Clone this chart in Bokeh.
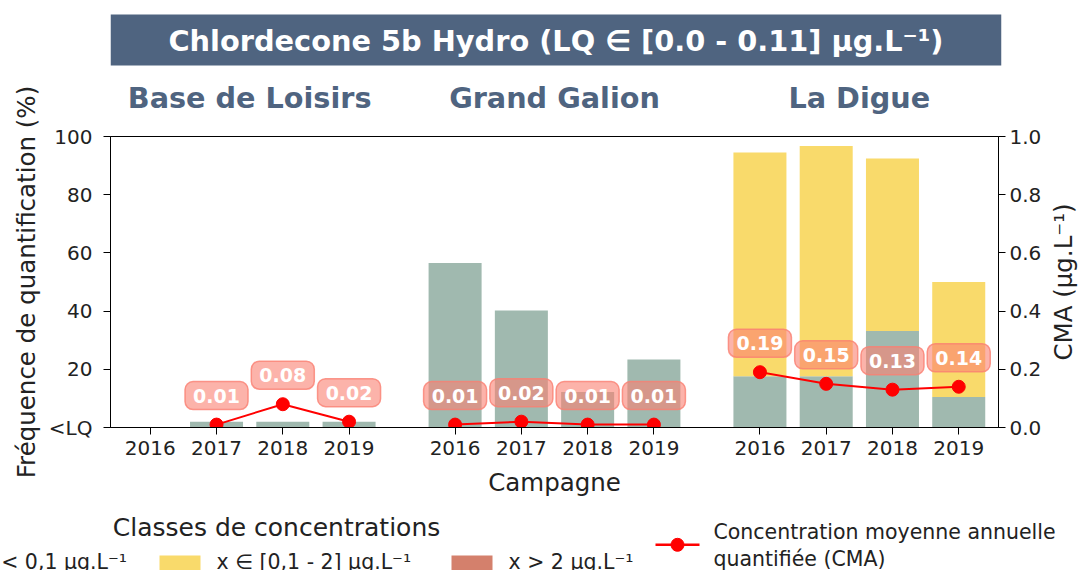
import math
from bokeh.plotting import figure
from bokeh.layouts import column, row
from bokeh.models import (ColumnDataSource, Range1d, LinearAxis, FixedTicker,
                          Label, NumeralTickFormatter)
from bokeh.core.properties import value
from bokeh.embed import file_html
from bokeh.resources import INLINE

# ---------------- data ----------------
title_text = "Chlordecone 5b Hydro (LQ \u2208 [0.0 - 0.11] \u00b5g.L\u207b\u00b9)"
sites = ["Base de Loisirs", "Grand Galion", "La Digue"]
years = ["2016", "2017", "2018", "2019"]
# frequency of quantification (%) per concentration class, per site and year
freq_lt_01 = [[0, 2, 2, 2], [56.5, 40.2, 12.2, 23.4], [17.6, 17.6, 33.2, 10.5]]
freq_01_2 = [[0, 0, 0, 0], [0, 0, 0, 0], [76.9, 79.1, 59.2, 39.5]]
freq_gt_2 = [[0, 0, 0, 0], [0, 0, 0, 0], [0, 0, 0, 0]]
# annual mean quantified concentration (µg/L)
cma = [[None, 0.01, 0.08, 0.02], [0.01, 0.02, 0.01, 0.01], [0.19, 0.15, 0.13, 0.14]]
class_labels = ["x < 0,1 \u00b5g.L\u207b\u00b9", "x \u2208 [0,1 - 2] \u00b5g.L\u207b\u00b9", "x > 2 \u00b5g.L\u207b\u00b9"]
class_colors = ["#A0B9AF", "#F9DA6B", "#D4806C"]
legend_title = "Classes de concentrations"
cma_legend = ["Concentration moyenne annuelle", "quantifi\u00e9e (CMA)"]
y_ticks = [0, 20, 40, 60, 80, 100]
cma_ticks = [0.0, 0.2, 0.4, 0.6, 0.8, 1.0]
y_label = "Fr\u00e9quence de quantification (%)"
y2_label = "CMA (\u00b5g.L\u207b\u00b9)"
x_label = "Campagne"

# ---------------- layout constants ----------------
FONT = "DejaVu Sans"
TXT = "#222222"
SLATE = "#4F6480"
W = 1078
group_offsets = [0.0, 4.6, 9.2]
X0, X1 = -0.6, 12.8
FRAME_L, FRAME_R, FRAME_T, FRAME_B = 110, 1001, 136, 427   # page pixels
TOP_H = 72           # banner strip
BOT_Y = 505          # legend strip starts here
H_TOTAL = 570
MAIN_W = 1044        # main chart canvas width; a narrow strip on its right holds the CMA title
LABEL_DY = 29.0 / (FRAME_B - FRAME_T)   # 29 px above point, in CMA units

xr = Range1d(X0, X1)

# ---------------- top strip: banner ----------------
ptop = figure(width=W, height=TOP_H, x_range=xr, y_range=Range1d(TOP_H, 0),
              x_axis_type=None, y_axis_type=None, output_backend="svg",
              toolbar_location=None, min_border_left=FRAME_L,
              min_border_right=W - FRAME_R, min_border_top=0, min_border_bottom=0)
ptop.outline_line_color = None
ptop.background_fill_color = "white"
ptop.border_fill_color = "white"
ptop.quad(left=[X0], right=[X1], top=[14], bottom=[65], fill_color=SLATE, line_color=None)
ptop.add_layout(Label(x=(X0 + X1) / 2, y=40, text=title_text, text_align="center",
                      text_baseline="middle", text_font=FONT, text_font_size="28.8px",
                      text_font_style="bold", text_color="white"))

# ---------------- main chart ----------------
xs, lt, mid, gt, year_lab = [], [], [], [], []
for g, off in enumerate(group_offsets):
    for i, yr in enumerate(years):
        xs.append(round(off + i, 2))
        year_lab.append(yr)
        lt.append(freq_lt_01[g][i])
        mid.append(freq_01_2[g][i])
        gt.append(freq_gt_2[g][i])
src = ColumnDataSource(dict(x=xs, lt=lt, mid=mid, gt=gt))

MAIN_H = BOT_Y - TOP_H
p = figure(width=MAIN_W, height=MAIN_H, x_range=xr, y_range=Range1d(0, 100),
           output_backend="svg", toolbar_location=None,
           min_border_left=FRAME_L, min_border_right=MAIN_W - FRAME_R,
           min_border_top=FRAME_T - TOP_H, min_border_bottom=BOT_Y - FRAME_B)
p.extra_y_ranges = {"cma": Range1d(0, 1)}
p.xgrid.visible = False
p.ygrid.visible = False
p.outline_line_color = "black"
p.outline_line_width = 1
p.background_fill_color = "white"
p.border_fill_color = "white"

p.vbar_stack(["lt", "mid", "gt"], x="x", width=0.8, source=src,
             fill_color=class_colors, line_color=None)

lab_x, lab_y, lab_t = [], [], []
for g, off in enumerate(group_offsets):
    px_, py_ = [], []
    for i in range(len(years)):
        if cma[g][i] is not None:
            px_.append(round(off + i, 2))
            py_.append(cma[g][i])
    p.line(px_, py_, y_range_name="cma", line_color="red", line_width=2)
    p.scatter(px_, py_, y_range_name="cma", size=13, fill_color="red", line_color="red")
    for xv, yv in zip(px_, py_):
        lab_x.append(xv)
        lab_y.append(yv + LABEL_DY)
        lab_t.append(f"{yv:.2f}")

lab_src = ColumnDataSource(dict(x=lab_x, y=lab_y, t=lab_t))
rect_kw = dict(x="x", y="y", width=63, height=28, width_units="screen",
               height_units="screen", source=lab_src, y_range_name="cma",
               fill_color="#FA8072", fill_alpha=0.6, line_color="#FA8072",
               line_alpha=0.8, line_width=1.5)
try:
    p.rect(border_radius=8, **rect_kw)
except Exception:
    p.rect(**rect_kw)
p.text(x="x", y="y", text="t", source=lab_src, y_range_name="cma",
       text_align="center", text_baseline="middle", text_font=value(FONT),
       text_font_size="19px", text_font_style="bold", text_color="white")

# axes
p.xaxis.ticker = FixedTicker(ticks=xs)
p.xaxis.major_label_overrides = {x: yl for x, yl in zip(xs, year_lab)}
p.xaxis.axis_label = x_label
p.yaxis.ticker = FixedTicker(ticks=y_ticks)
p.yaxis.major_label_overrides = {0: "<LQ"}
p.yaxis.axis_label = y_label

ax2 = LinearAxis(y_range_name="cma", ticker=FixedTicker(ticks=cma_ticks),
                 formatter=NumeralTickFormatter(format="0.0"))
p.add_layout(ax2, "right")

for ax in p.axis:
    ax.axis_line_color = "black"
    ax.major_tick_line_color = "black"
    ax.minor_tick_line_color = None
    ax.major_tick_in = 0
    ax.major_tick_out = 7
    ax.major_label_text_font = FONT
    ax.major_label_text_font_size = "20px"
    ax.major_label_text_color = TXT
    ax.axis_label_text_font = FONT
    ax.axis_label_text_font_size = "24.5px"
    ax.axis_label_text_font_style = "normal"
    ax.axis_label_text_color = TXT

p.xaxis.major_label_standoff = 6
p.xaxis.axis_label_standoff = 10
p.yaxis.major_label_standoff = 11
p.yaxis.axis_label_standoff = 5
ax2.major_label_standoff = 4

# site names above the frame, as labels of a top axis at each group's centre
site_centers = [round(off + 1.5, 2) for off in group_offsets]
ax_top = LinearAxis(ticker=FixedTicker(ticks=site_centers),
                    major_label_overrides={c: s for c, s in zip(site_centers, sites)},
                    axis_line_color=None, major_tick_line_color=None, minor_tick_line_color=None,
                    major_tick_in=0, major_tick_out=0, major_label_standoff=22,
                    major_label_text_font=FONT, major_label_text_font_size="28.7px",
                    major_label_text_font_style="bold", major_label_text_color=SLATE)
p.add_layout(ax_top, "above")

# ---------------- right strip: CMA axis title ----------------
RW = W - MAIN_W
pright = figure(width=RW, height=MAIN_H, x_range=Range1d(0, RW), y_range=Range1d(MAIN_H, 0),
                x_axis_type=None, y_axis_type=None, output_backend="svg",
                toolbar_location=None, min_border_left=0, min_border_right=0,
                min_border_top=0, min_border_bottom=0)
pright.outline_line_color = None
pright.background_fill_color = "white"
pright.border_fill_color = "white"
pright.add_layout(Label(x=1063 - MAIN_W, y=(FRAME_T + FRAME_B) / 2 - TOP_H, text=y2_label,
                        angle=math.pi / 2, text_align="center", text_baseline="middle",
                        text_font=FONT, text_font_size="24.5px", text_color=TXT))

# ---------------- bottom strip: legend ----------------
BOT_H = H_TOTAL - BOT_Y
pbot = figure(width=W, height=BOT_H, x_range=Range1d(0, W), y_range=Range1d(H_TOTAL, BOT_Y),
              x_axis_type=None, y_axis_type=None, output_backend="svg",
              toolbar_location=None, min_border_left=0, min_border_right=0,
              min_border_top=0, min_border_bottom=0)
for fig in (ptop, pbot, pright):
    if hasattr(fig, "frame_align"):
        fig.frame_align = False
pbot.outline_line_color = None
pbot.background_fill_color = "white"
pbot.border_fill_color = "white"

pbot.add_layout(Label(x=276, y=527, text=legend_title, text_align="center",
                      text_baseline="middle", text_font=FONT, text_font_size="25px",
                      text_color=TXT))
sw_left = [-75, 159, 451]
txt_left = [-18, 216, 508]
pbot.quad(left=sw_left, right=[s + 41 for s in sw_left], top=[555] * 3, bottom=[571] * 3,
          fill_color=class_colors, line_color=None)
for k in range(3):
    pbot.add_layout(Label(x=txt_left[k], y=561, text=class_labels[k],
                          text_align="left", text_baseline="middle", text_font=FONT,
                          text_font_size="20.5px", text_color=TXT))
pbot.line([655, 699], [544.3, 544.3], line_color="red", line_width=2.5)
pbot.scatter([677], [544.3], size=13, fill_color="red", line_color="red")
for j, t in enumerate(cma_legend):
    pbot.add_layout(Label(x=713, y=531 + 27 * j, text=t, text_align="left",
                          text_baseline="middle", text_font=FONT, text_font_size="20.5px",
                          text_color=TXT))

layout = column(ptop, row(p, pright, spacing=0), pbot, spacing=0)
open("out.html", "w").write(file_html(layout, INLINE))
